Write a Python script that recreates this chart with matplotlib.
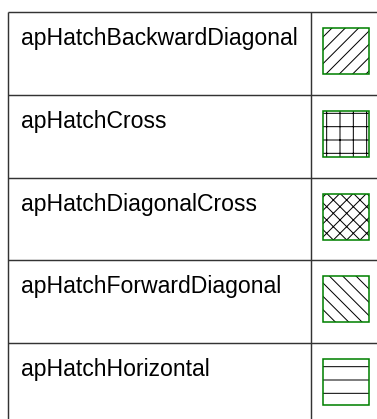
import matplotlib
matplotlib.use("Agg")
import matplotlib.pyplot as plt
from matplotlib.patches import Rectangle

# table contents
labels = [
    "apHatchBackwardDiagonal",
    "apHatchCross",
    "apHatchDiagonalCross",
    "apHatchForwardDiagonal",
    "apHatchHorizontal",
]
hatches = ["//", "+", "xx", "\\\\", "-"]

W, H = 377, 419
DPI = 80
fig = plt.figure(figsize=(W / DPI, H / DPI), dpi=DPI)
ax = fig.add_axes([0, 0, 1, 1])
ax.set_xlim(0, W)
ax.set_ylim(H, 0)
ax.axis("off")

plt.rcParams["hatch.linewidth"] = 0.9

left, top = 8.3, 12.3
col_x = 310.7
row_h = 82.6
line_kw = dict(color="#333333", lw=1.3, solid_capstyle="butt")

# outer frame + grid lines
ax.plot([left, left], [top, H], **line_kw)
ax.plot([col_x, col_x], [top, H], **line_kw)
for i in range(len(labels)):
    y = top + i * row_h
    ax.plot([left, W], [y, y], **line_kw)

for i, (lab, hat) in enumerate(zip(labels, hatches)):
    y0 = top + i * row_h
    ax.text(left + 12.5, y0 + 33, lab, fontsize=20.7, family="Liberation Sans",
            color="black", va="baseline", ha="left")
    # hatch fill, then the green outline on top
    ax.add_patch(Rectangle((323, y0 + 16), 46, 46, facecolor="white",
                           edgecolor="black", lw=0, hatch=hat))
    ax.add_patch(Rectangle((323, y0 + 16), 46, 46, facecolor="none",
                           edgecolor="#008000", lw=1.4))

fig.savefig("out.png", dpi=DPI)
